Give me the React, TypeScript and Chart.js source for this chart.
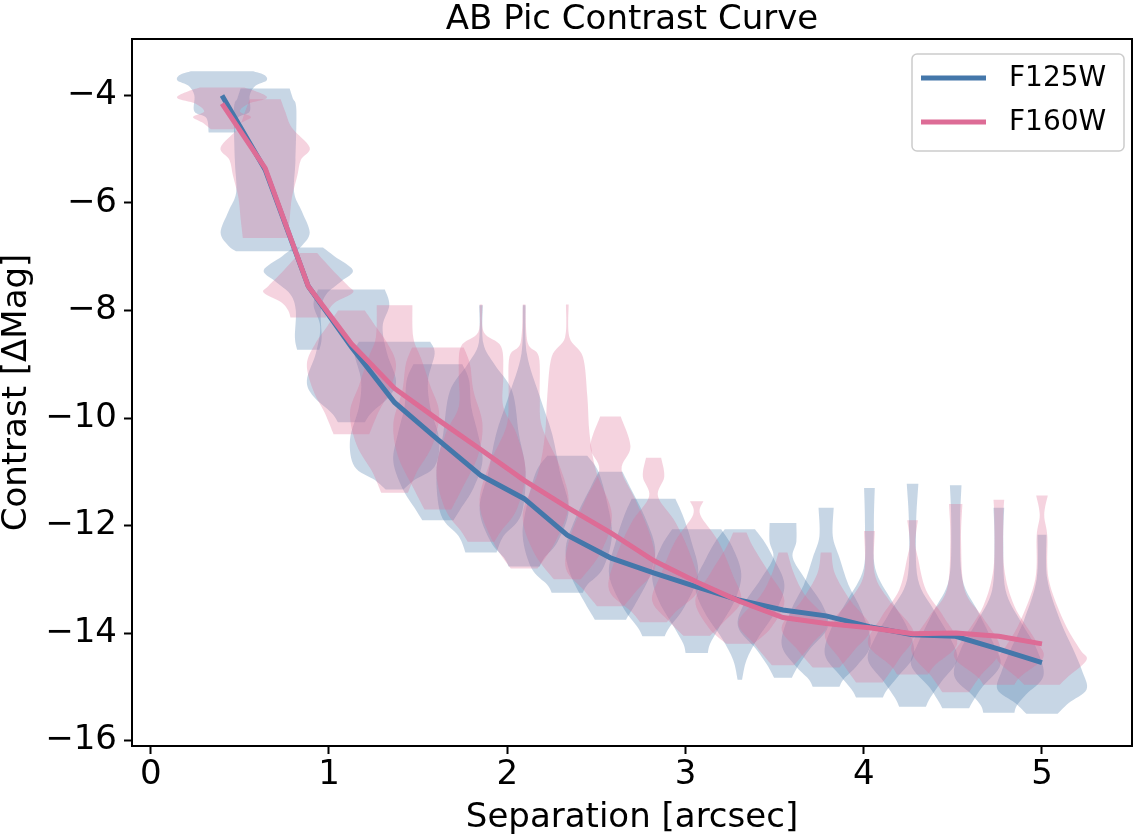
import React, { useEffect, useRef } from 'react';
import { Chart, registerables } from 'chart.js';

Chart.register(...registerables);

// ---------------- data ----------------
const chartTitle = 'AB Pic Contrast Curve';
const xAxisLabel = 'Separation [arcsec]';
const yAxisLabel = 'Contrast [\u0394Mag]';
const seriesNames = ['F125W', 'F160W'];

const separations = [0.4, 0.642, 0.884, 1.126, 1.368, 1.611, 1.853, 2.095, 2.337, 2.579,
  2.821, 3.063, 3.305, 3.547, 3.789, 4.032, 4.274, 4.516, 4.758, 5.0];

const f125wContrast = [-4.0, -5.38, -7.55, -8.68, -9.71, -10.4, -11.07, -11.5, -12.18, -12.6,
  -12.88, -13.14, -13.39, -13.57, -13.68, -13.88, -14.03, -14.06, -14.3, -14.55];

const f160wContrast = [-4.15, -5.35, -7.55, -8.62, -9.45, -10.03, -10.59, -11.16, -11.66, -12.13,
  -12.65, -13.05, -13.41, -13.71, -13.82, -13.9, -14.01, -14.0, -14.06, -14.2];

// violin bodies: [contrast, relative half-width] from top to bottom
const f125wViolins: number[][][] = [
  [[-3.55, 0.7], [-3.62, 0.95], [-3.72, 1.0], [-3.82, 0.75], [-4.0, 0.62], [-4.3, 0.62], [-4.42, 0.35], [-4.69, 0.3]],
  [[-3.87, 0.55], [-4.05, 0.62], [-4.26, 0.7], [-5.2, 0.68], [-5.8, 0.65], [-6.15, 0.82], [-6.55, 1.0], [-6.8, 0.82], [-6.9, 0.65]],
  [[-6.83, 0.33], [-7.0, 0.6], [-7.25, 1.0], [-7.45, 0.75], [-7.7, 0.4], [-8.0, 0.28], [-8.5, 0.3], [-8.73, 0.25]],
  [[-7.61, 0.75], [-7.9, 0.85], [-8.3, 0.7], [-8.8, 0.8], [-9.3, 1.0], [-9.6, 0.85], [-9.9, 0.45], [-10.08, 0.3]],
  [[-8.58, 0.8], [-8.8, 0.9], [-9.3, 0.75], [-9.8, 0.8], [-10.4, 1.0], [-10.9, 0.9], [-11.15, 0.45], [-11.33, 0.2]],
  [[-9.0, 0.55], [-9.3, 0.7], [-9.8, 0.75], [-10.3, 0.9], [-10.8, 1.0], [-11.3, 0.8], [-11.7, 0.5], [-11.9, 0.35]],
  [[-7.9, 0.04], [-8.6, 0.05], [-9.0, 0.3], [-9.5, 0.7], [-10.3, 0.85], [-11.0, 1.0], [-11.8, 0.9], [-12.2, 0.5], [-12.5, 0.35]],
  [[-7.9, 0.03], [-8.8, 0.06], [-9.6, 0.35], [-10.3, 0.63], [-11.0, 0.8], [-11.7, 1.0], [-12.3, 0.75], [-12.6, 0.45], [-12.76, 0.35]],
  [[-10.7, 0.45], [-11.0, 0.7], [-11.6, 0.9], [-12.2, 1.0], [-12.8, 0.8], [-13.1, 0.45], [-13.25, 0.35]],
  [[-11.0, 0.27], [-11.3, 0.45], [-11.8, 0.75], [-12.4, 1.0], [-12.9, 0.9], [-13.4, 0.6], [-13.75, 0.35]],
  [[-11.5, 0.49], [-11.8, 0.65], [-12.3, 0.85], [-12.9, 1.0], [-13.5, 0.7], [-13.9, 0.35], [-14.06, 0.25]],
  [[-12.07, 0.55], [-12.4, 0.8], [-12.9, 1.0], [-13.4, 0.85], [-13.9, 0.5], [-14.2, 0.3], [-14.37, 0.25]],
  [[-12.07, 0.34], [-12.3, 0.55], [-12.6, 0.75], [-13.1, 1.0], [-13.6, 0.8], [-14.1, 0.4], [-14.5, 0.15], [-14.87, 0.05]],
  [[-11.95, 0.3], [-12.3, 0.3], [-12.6, 0.22], [-13.0, 0.5], [-13.5, 0.9], [-13.9, 1.0], [-14.3, 0.6], [-14.6, 0.35], [-14.83, 0.2]],
  [[-11.67, 0.17], [-12.2, 0.15], [-12.6, 0.3], [-13.1, 0.5], [-13.6, 0.8], [-14.2, 1.0], [-14.6, 0.7], [-14.85, 0.4], [-15.0, 0.3]],
  [[-11.3, 0.12], [-12.0, 0.1], [-12.8, 0.13], [-13.4, 0.5], [-13.9, 0.85], [-14.4, 1.0], [-14.8, 0.65], [-15.05, 0.4], [-15.2, 0.3]],
  [[-11.22, 0.13], [-12.0, 0.08], [-13.0, 0.12], [-13.6, 0.5], [-14.1, 0.85], [-14.5, 1.0], [-14.9, 0.65], [-15.2, 0.4], [-15.37, 0.3]],
  [[-11.25, 0.13], [-12.0, 0.1], [-13.0, 0.15], [-13.6, 0.5], [-14.2, 0.85], [-14.6, 1.0], [-15.0, 0.6], [-15.25, 0.4], [-15.4, 0.3]],
  [[-11.67, 0.12], [-12.3, 0.1], [-13.2, 0.15], [-13.8, 0.5], [-14.3, 0.85], [-14.8, 1.0], [-15.15, 0.6], [-15.35, 0.4], [-15.48, 0.35]],
  [[-12.17, 0.1], [-13.0, 0.12], [-13.75, 0.4], [-14.3, 0.7], [-14.7, 0.9], [-15.05, 1.0], [-15.3, 0.6], [-15.5, 0.35]],
];

const f160wViolins: number[][][] = [
  [[-3.85, 0.5], [-3.95, 0.85], [-4.05, 1.0], [-4.15, 0.6], [-4.3, 0.4], [-4.4, 0.65], [-4.5, 0.45], [-4.63, 0.25]],
  [[-4.07, 0.35], [-4.3, 0.45], [-4.6, 0.6], [-4.97, 1.0], [-5.2, 0.8], [-5.5, 0.72], [-5.9, 0.6], [-6.3, 0.55], [-6.65, 0.5]],
  [[-6.93, 0.2], [-7.1, 0.38], [-7.3, 0.6], [-7.55, 0.9], [-7.67, 1.0], [-7.85, 0.6], [-8.0, 0.45], [-8.13, 0.4]],
  [[-8.0, 0.3], [-8.3, 0.55], [-8.6, 0.8], [-9.0, 1.0], [-9.5, 0.85], [-9.9, 0.6], [-10.3, 0.4]],
  [[-7.9, 0.4], [-8.5, 0.42], [-8.9, 0.6], [-9.4, 0.8], [-9.9, 1.0], [-10.5, 0.85], [-11.0, 0.5], [-11.39, 0.3]],
  [[-8.69, 0.58], [-9.0, 0.72], [-9.5, 0.8], [-10.1, 1.0], [-10.7, 0.9], [-11.3, 0.55], [-11.7, 0.3]],
  [[-7.89, 0.03], [-8.4, 0.06], [-8.67, 0.45], [-9.2, 0.5], [-9.79, 0.5], [-10.3, 0.8], [-11.0, 1.0], [-11.7, 0.8], [-12.1, 0.45], [-12.3, 0.3]],
  [[-7.89, 0.03], [-8.6, 0.08], [-8.86, 0.33], [-9.6, 0.35], [-10.16, 0.4], [-10.9, 0.8], [-11.6, 1.0], [-12.3, 0.7], [-12.8, 0.3]],
  [[-7.89, 0.03], [-8.5, 0.05], [-8.86, 0.35], [-9.6, 0.45], [-10.3, 0.5], [-11.0, 0.65], [-11.8, 1.0], [-12.5, 0.75], [-13.0, 0.3]],
  [[-9.97, 0.23], [-10.53, 0.45], [-10.96, 0.25], [-11.5, 0.55], [-12.2, 0.9], [-12.8, 1.0], [-13.2, 0.6], [-13.5, 0.3]],
  [[-10.74, 0.17], [-11.09, 0.24], [-11.46, 0.1], [-11.95, 0.5], [-12.6, 0.85], [-13.2, 1.0], [-13.6, 0.5], [-13.8, 0.3]],
  [[-11.55, 0.15], [-11.8, 0.08], [-12.3, 0.49], [-12.9, 0.8], [-13.4, 1.0], [-13.8, 0.6], [-14.05, 0.3]],
  [[-12.13, 0.15], [-12.4, 0.3], [-12.9, 0.67], [-13.4, 1.0], [-13.9, 0.7], [-14.2, 0.3]],
  [[-12.5, 0.1], [-12.9, 0.25], [-13.3, 0.5], [-13.8, 1.0], [-14.2, 0.65], [-14.6, 0.25]],
  [[-12.5, 0.12], [-12.9, 0.2], [-13.4, 0.55], [-13.9, 1.0], [-14.3, 0.65], [-14.64, 0.3]],
  [[-12.1, 0.12], [-12.9, 0.12], [-13.4, 0.45], [-14.0, 1.0], [-14.5, 0.65], [-14.92, 0.3]],
  [[-11.9, 0.12], [-12.3, 0.06], [-12.6, 0.12], [-13.2, 0.3], [-13.7, 0.7], [-14.2, 1.0], [-14.6, 0.5], [-14.77, 0.35]],
  [[-11.6, 0.15], [-12.3, 0.12], [-13.2, 0.2], [-13.7, 0.6], [-14.3, 1.0], [-14.8, 0.55], [-15.1, 0.3]],
  [[-11.52, 0.12], [-11.9, 0.1], [-12.8, 0.12], [-13.5, 0.35], [-14.1, 0.8], [-14.45, 1.0], [-14.8, 0.5], [-14.96, 0.35]],
  [[-11.44, 0.13], [-11.8, 0.05], [-12.2, 0.12], [-13.0, 0.15], [-13.8, 0.5], [-14.3, 0.85], [-14.5, 1.0], [-14.8, 0.6], [-14.96, 0.4]],
];

const xTickValues = [0, 1, 2, 3, 4, 5];
const yTickValues = [-16, -14, -12, -10, -8, -6, -4];

// ---------------- styles ----------------
const FONT = 'DejaVu Sans';
const BLUE = '#4477AA';
const PINK = '#DD6C96';
const BLUE_FILL = 'rgba(68,119,170,0.3)';
const PINK_FILL = 'rgba(221,108,150,0.3)';
const VIOLIN_HALF_WIDTH = 0.25;

const fmt = (v: number) => (v < 0 ? '\u2212' + Math.abs(v) : String(v));

type Pt = { x: number; y: number };

// smooth side through points using Catmull-Rom -> Bezier (path already at pts[0])
function smoothSide(ctx: CanvasRenderingContext2D, pts: Pt[]) {
  const n = pts.length;
  for (let i = 0; i < n - 1; i++) {
    const p0 = pts[Math.max(i - 1, 0)];
    const p1 = pts[i];
    const p2 = pts[i + 1];
    const p3 = pts[Math.min(i + 2, n - 1)];
    const c1x = p1.x + (p2.x - p0.x) / 6;
    const c1y = p1.y + (p2.y - p0.y) / 6;
    const c2x = p2.x - (p3.x - p1.x) / 6;
    const c2y = p2.y - (p3.y - p1.y) / 6;
    ctx.bezierCurveTo(c1x, c1y, c2x, c2y, p2.x, p2.y);
  }
}

const violinPlugin = {
  id: 'violinBodies',
  beforeDatasetsDraw(chart: any) {
    const { ctx, chartArea, scales } = chart;
    const xs = scales.x;
    const ys = scales.y;
    ctx.save();
    ctx.beginPath();
    ctx.rect(chartArea.left, chartArea.top, chartArea.right - chartArea.left, chartArea.bottom - chartArea.top);
    ctx.clip();
    const groups = [
      { bodies: f125wViolins, color: BLUE_FILL },
      { bodies: f160wViolins, color: PINK_FILL },
    ];
    for (const g of groups) {
      g.bodies.forEach((profile, i) => {
        const cx = separations[i];
        const right: Pt[] = profile.map(([v, w]) => ({
          x: xs.getPixelForValue(cx + w * VIOLIN_HALF_WIDTH),
          y: ys.getPixelForValue(v),
        }));
        const left: Pt[] = profile
          .map(([v, w]) => ({
            x: xs.getPixelForValue(cx - w * VIOLIN_HALF_WIDTH),
            y: ys.getPixelForValue(v),
          }))
          .reverse();
        ctx.beginPath();
        ctx.moveTo(right[0].x, right[0].y);
        smoothSide(ctx, right);
        ctx.lineTo(left[0].x, left[0].y);
        smoothSide(ctx, left);
        ctx.closePath();
        ctx.fillStyle = g.color;
        ctx.fill();
      });
    }
    ctx.restore();
  },
};

const decorPlugin = {
  id: 'decor',
  afterDraw(chart: any) {
    const { ctx, chartArea } = chart;
    ctx.save();
    // top and right spines
    ctx.strokeStyle = '#000';
    ctx.lineWidth = 2;
    ctx.beginPath();
    ctx.moveTo(chartArea.left, chartArea.top);
    ctx.lineTo(chartArea.right, chartArea.top);
    ctx.lineTo(chartArea.right, chartArea.bottom);
    ctx.stroke();

    // title
    ctx.fillStyle = '#000';
    ctx.font = `34px "${FONT}"`;
    ctx.textAlign = 'center';
    ctx.textBaseline = 'alphabetic';
    ctx.fillText(chartTitle, (chartArea.left + chartArea.right) / 2, chartArea.top - 10);

    // legend
    const bw = 212;
    const bh = 97;
    const bx = chartArea.right - 8 - bw;
    const by = chartArea.top + 15;
    ctx.beginPath();
    if (ctx.roundRect) ctx.roundRect(bx, by, bw, bh, 5);
    else ctx.rect(bx, by, bw, bh);
    ctx.fillStyle = 'rgba(255,255,255,0.8)';
    ctx.fill();
    ctx.strokeStyle = '#cccccc';
    ctx.lineWidth = 1.5;
    ctx.stroke();
    const colors = [BLUE, PINK];
    seriesNames.forEach((name, i) => {
      const ry = by + 24 + i * 44;
      ctx.strokeStyle = colors[i];
      ctx.lineWidth = 5;
      ctx.beginPath();
      ctx.moveTo(bx + 9, ry);
      ctx.lineTo(bx + 74, ry);
      ctx.stroke();
      ctx.fillStyle = '#000';
      ctx.font = `28px "${FONT}"`;
      ctx.textAlign = 'left';
      ctx.textBaseline = 'middle';
      ctx.fillText(name, bx + 97, ry + 1);
    });
    ctx.restore();
  },
};

export default function App() {
  const ref = useRef<HTMLCanvasElement | null>(null);

  useEffect(() => {
    if (!ref.current) return;
    const chart = new Chart(ref.current, {
      type: 'line',
      data: {
        datasets: [
          {
            label: seriesNames[1],
            data: separations.map((x, i) => ({ x, y: f160wContrast[i] })),
            borderColor: PINK,
            backgroundColor: PINK,
            borderWidth: 5,
            pointRadius: 0,
            tension: 0,
            order: 0,
          },
          {
            label: seriesNames[0],
            data: separations.map((x, i) => ({ x, y: f125wContrast[i] })),
            borderColor: BLUE,
            backgroundColor: BLUE,
            borderWidth: 5,
            pointRadius: 0,
            tension: 0,
            order: 1,
          },
        ],
      },
      options: {
        responsive: false,
        animation: false,
        layout: { padding: { left: 0, right: 9, top: 39, bottom: 0 } },
        plugins: {
          legend: { display: false },
          tooltip: { enabled: false },
          title: { display: false },
        },
        scales: {
          x: {
            type: 'linear',
            min: -0.105,
            max: 5.505,
            afterBuildTicks: (s: any) => {
              s.ticks = xTickValues.map((v) => ({ value: v }));
            },
            afterFit: (s: any) => {
              s.height = 93;
            },
            ticks: {
              color: '#000',
              font: { family: FONT, size: 34 },
              padding: 1,
              maxRotation: 0,
              autoSkip: false,
              callback: (v: any) => fmt(Number(v)),
            },
            grid: { drawOnChartArea: false, drawTicks: true, tickLength: 8, color: '#000', tickWidth: 2 },
            border: { display: true, color: '#000', width: 2 },
            title: {
              display: true,
              text: xAxisLabel,
              color: '#000',
              font: { family: FONT, size: 34, lineHeight: 1.0 },
              padding: { top: 0, bottom: 4 },
            },
          },
          y: {
            type: 'linear',
            min: -16.1,
            max: -2.95,
            afterBuildTicks: (s: any) => {
              s.ticks = yTickValues.map((v) => ({ value: v }));
            },
            afterFit: (s: any) => {
              s.width = 132;
            },
            ticks: {
              color: '#000',
              font: { family: FONT, size: 34 },
              padding: 7,
              autoSkip: false,
              callback: (v: any) => fmt(Number(v)),
            },
            grid: { drawOnChartArea: false, drawTicks: true, tickLength: 8, color: '#000', tickWidth: 2 },
            border: { display: true, color: '#000', width: 2 },
            title: {
              display: true,
              text: yAxisLabel,
              color: '#000',
              font: { family: FONT, size: 34, lineHeight: 1.0 },
              padding: { top: 0, bottom: 0 },
            },
          },
        },
      },
      plugins: [violinPlugin, decorPlugin],
    } as any);
    return () => chart.destroy();
  }, []);

  return (
    <div style={{ position: 'absolute', left: 0, top: 0, width: 1141, height: 839, background: '#fff' }}>
      <canvas ref={ref} width={1141} height={839} style={{ display: 'block' }} />
    </div>
  );
}
